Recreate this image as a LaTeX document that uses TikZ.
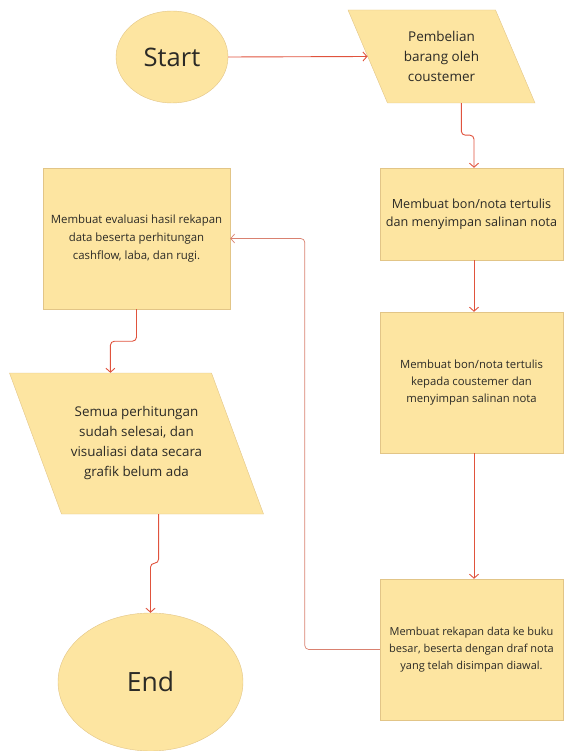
\documentclass[tikz,border=0pt]{standalone}
\usepackage{fontspec}
\setmainfont{Open Sans}
\usepackage{xcolor}
\usetikzlibrary{shapes.geometric,arrows.meta,positioning}
\definecolor{boxfill}{HTML}{FDE5A1}
\definecolor{boxline}{HTML}{E2C587}
\definecolor{flowred}{HTML}{E0533D}
\definecolor{backred}{HTML}{D98170}
\definecolor{textdark}{HTML}{2B2A26}
\newcommand{\fs}[2]{\fontsize{#1}{#2}\selectfont}
\newcommand{\iotext}[3]{\parbox[c][#1][c]{#2}{\centering #3}}
\tikzset{
  term/.style={ellipse,draw=boxline,fill=boxfill,text=textdark,inner sep=0pt},
  proc/.style={rectangle,draw=boxline,fill=boxfill,text=textdark,align=center,
    minimum width=183pt,minimum height=141pt,inner sep=0pt},
  io/.style={trapezium,trapezium stretches body,draw=boxline,fill=boxfill,
    text=textdark,inner sep=0pt},
  flow/.style={draw=flowred,line width=0.9pt,rounded corners=4pt,
    -{Straight Barb[length=4pt,width=9pt]}},
  back/.style={draw=backred,line width=0.7pt,rounded corners=4pt,
    -{Straight Barb[length=4pt,width=9pt]}}
}

\begin{document}
\begin{tikzpicture}[x=1pt,y=-1pt]
    \useasboundingbox (0,0) rectangle (564,751);
    % right column
    \node[term,minimum width=112pt,minimum height=92pt,font=\fs{25.5}{30}] (start) at (172,57) {Start};
    \node[io,trapezium left angle=113,trapezium right angle=67,
      minimum width=187pt] (beli) at (441.5,56.5)
      {\iotext{93pt}{100pt}{\fs{13.5}{20}Pembelian\\barang oleh\\coustemer}};
    \node[proc,minimum height=92pt,font=\fs{12.6}{18}] (nota) at (471.5,214)
      {Membuat bon/nota tertulis\\dan menyimpan salinan nota};
    \node[proc,font=\fs{11.3}{17}] (kirim) at (471.5,382.5)
      {Membuat bon/nota tertulis\\kepada coustemer dan\\menyimpan salinan nota};
    \node[proc,font=\fs{11}{17}] (rekap) at (471.5,649.5)
      {Membuat rekapan data ke buku\\besar, beserta dengan draf nota\\yang telah disimpan diawal.};
    % left column
    \node[proc,minimum width=187pt,font=\fs{11.4}{18}] (eval) at (136.5,238.5)
      {Membuat evaluasi hasil rekapan\\data beserta perhitungan\\cashflow, laba, dan rugi.};
    \node[io,trapezium left angle=110.25,trapezium right angle=69.75,
      minimum width=253pt] (hasil) at (136.5,443.5)
      {\iotext{141pt}{150pt}{\fs{13.4}{20}Semua perhitungan\\sudah selesai, dan\\visualiasi data secara\\grafik belum ada}};
    \node[term,minimum width=185pt,minimum height=138pt,font=\fs{26.5}{30}] (end) at (150.5,682) {End};
    % arrows
    \draw[flow] (start.east) -- (beli.left side);
    \draw[flow] (beli.bottom side) -- ++(0,32) -| ([xshift=2.5pt]nota.north);
    \draw[flow] ([xshift=2.5pt]nota.south) -- ([xshift=2.5pt]kirim.north);
    \draw[flow] ([xshift=2.5pt]kirim.south) -- ([xshift=2.5pt]rekap.north);
    \draw[back] (rekap.west) -- ++(-75,0) |- (eval.east);
    \draw[flow] (eval.south) -- ++(0,32) -| (hasil.top side);
    \draw[flow] ([xshift=-4pt]hasil.bottom side) -- ++(0,49) -| (end.north);
\end{tikzpicture}
\end{document}
